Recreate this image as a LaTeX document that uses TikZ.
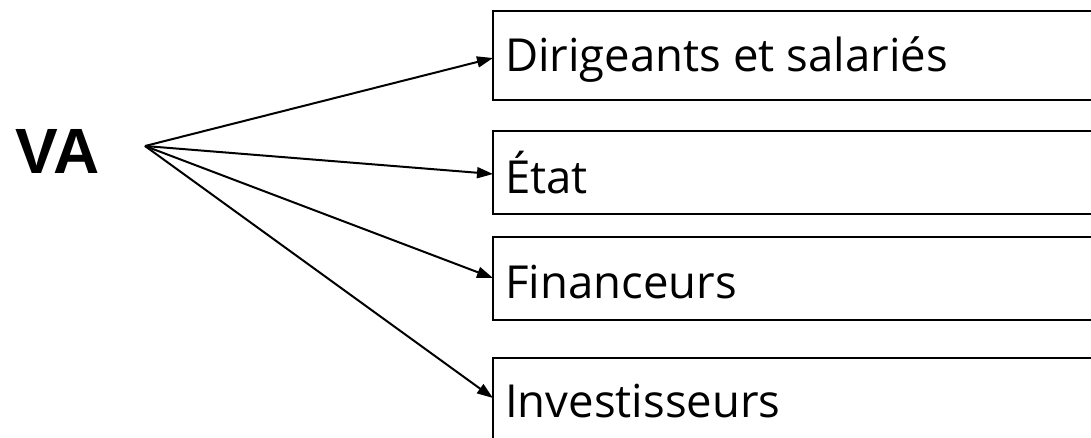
\documentclass[tikz,border=0pt]{standalone}
\usepackage{fontspec}
\setmainfont{Open Sans}
\newfontfamily\vafont{Liberation Sans}
\usetikzlibrary{arrows.meta}
\begin{document}
\begin{tikzpicture}[x=1pt,y=-1pt,
  box/.style={draw, line width=1.5pt, rectangle, anchor=north west, inner sep=0pt, outer sep=0pt},
  lbl/.style={anchor=base west, inner sep=0pt, font=\fontsize{45.5}{55}\selectfont},
  conn/.style={line width=2pt, -{Triangle[length=16pt,width=11pt]}}]
\useasboundingbox (0,0) rectangle (1091,437);
\clip (0,0) rectangle (1091,437);
\node[box, minimum width=610pt, minimum height=89pt] (b1) at (493,11) {};
\node[box, minimum width=610pt, minimum height=83pt] (b2) at (493,131) {};
\node[box, minimum width=610pt, minimum height=83pt] (b3) at (493,237) {};
\node[box, minimum width=610pt, minimum height=95pt] (b4) at (493,358) {};
\node[lbl] (t1) at (505,71) {Dirigeants et salariés};
\node[lbl] (t2) at (505,193) {État};
\node[lbl] (t3) at (505,298) {Financeurs};
\node[lbl] (t4) at (505,417) {Investisseurs};
\node[anchor=base west, inner sep=0pt, font=\vafont\bfseries\fontsize{64}{70}\selectfont] (va) at (15,173) {VA};
\coordinate (o) at (145,146);
\coordinate (e1) at (493,58);
\coordinate (e2) at (493,174);
\coordinate (e3) at (493,278);
\coordinate (e4) at (493,398);
\draw[conn] (o) -- (e1);
\draw[conn] (o) -- (e2);
\draw[conn] (o) -- (e3);
\draw[conn] (o) -- (e4);
\end{tikzpicture}
\end{document}
